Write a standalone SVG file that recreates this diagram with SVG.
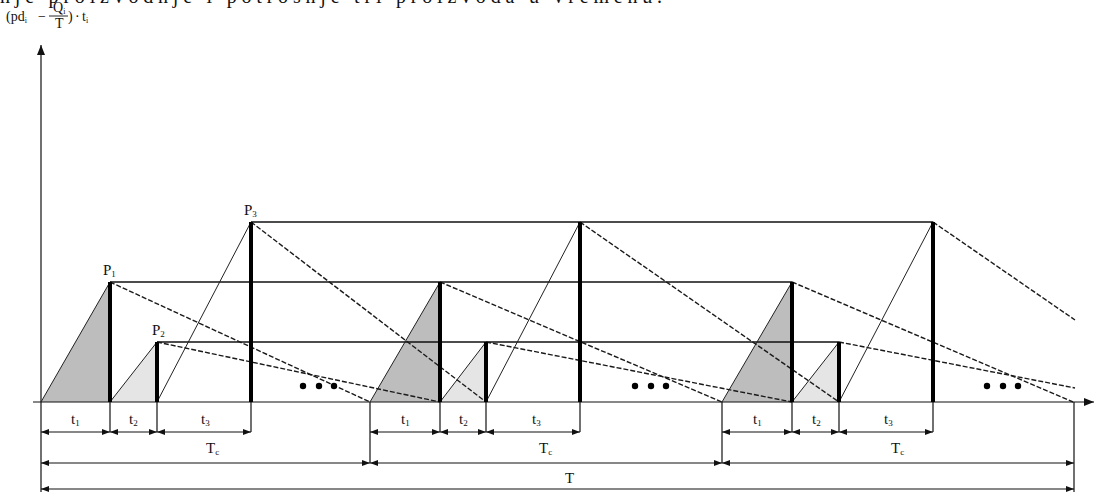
<svg xmlns="http://www.w3.org/2000/svg" width="1098" height="492" viewBox="0 0 1098 492">
<style>
text{font-family:"Liberation Serif","Times New Roman",serif;fill:#111}
.ax{stroke:#111;stroke-width:1.2;fill:none}
.thin{stroke:#222;stroke-width:1;fill:none}
.hl{stroke:#111;stroke-width:1.4;fill:none}
.dash{stroke:#1a1a1a;stroke-width:1.4;fill:none;stroke-dasharray:5 2}
.thick{stroke:#000;stroke-width:4;fill:none}
.dim{stroke:#111;stroke-width:1.2;fill:none;marker-start:url(#ah);marker-end:url(#ah)}
.dark{fill:#bdbdbd;stroke:none}
.light{fill:#e5e5e5;stroke:none}
.lbl{font-size:15px}
.sm{font-size:15px}
.sub{font-size:9px}
.f{font-size:14px}
.fs{font-size:8px}
</style>
<defs>
<marker id="ah" viewBox="0 0 8 6" refX="8" refY="3" markerWidth="8" markerHeight="6" markerUnits="userSpaceOnUse" orient="auto-start-reverse">
<path d="M0,0 L8,3 L0,6 Z" fill="#111"/>
</marker>
<marker id="axh" viewBox="0 0 10 8" refX="10" refY="4" markerWidth="10" markerHeight="8" markerUnits="userSpaceOnUse" orient="auto">
<path d="M0,0 L10,4 L0,8 Z" fill="#111"/>
</marker>
</defs>

<text x="0" y="3" font-size="20" textLength="662" lengthAdjust="spacing">nje proizvodnje i potrošnje tri proizvoda u vremenu.</text>

<g id="axis-label">
<text class="f" x="6" y="21">(pd<tspan class="fs" dy="2">i</tspan></text>
<text class="f" x="38" y="21">−</text>
<text class="f" x="53" y="12">Q<tspan class="fs" dy="2">i</tspan></text>
<line x1="49" y1="16" x2="68" y2="16" stroke="#111" stroke-width="0.9"/>
<text class="f" x="55" y="28">T</text>
<text class="f" x="68" y="21">)</text>
<text class="f" x="75" y="21">·</text>
<text class="f" x="82" y="21">t<tspan class="fs" dy="2">i</tspan></text>
</g>

<g id="shading">
<polygon class="dark" points="41,402 110,282 110,402"/>
<polygon class="light" points="110,402 157,342 157,402"/>
<polygon class="dark" points="370,402 440,282 440,402"/>
<polygon class="light" points="440,402 486,342 486,402"/>
<polygon class="dark" points="722,402 792,282 792,402"/>
<polygon class="light" points="792,402 839,342 839,402"/>
</g>

<g id="axes">
<line class="ax" x1="41" y1="492" x2="41" y2="45" marker-end="url(#axh)"/>
<line class="ax" x1="33" y1="402" x2="1094" y2="402" marker-end="url(#axh)"/>
</g>

<g id="levels">
<line class="hl" x1="110" y1="282" x2="792" y2="282"/>
<line class="hl" x1="157" y1="342" x2="839" y2="342"/>
<line class="hl" x1="251" y1="222" x2="933" y2="222"/>
</g>

<g id="connectors">
<line class="thin" x1="41" y1="402" x2="110" y2="282"/>
<line class="thin" x1="110" y1="402" x2="157" y2="342"/>
<line class="thin" x1="157" y1="402" x2="251" y2="222"/>
<line class="thin" x1="370" y1="402" x2="440" y2="282"/>
<line class="thin" x1="440" y1="402" x2="486" y2="342"/>
<line class="thin" x1="486" y1="402" x2="580" y2="222"/>
<line class="thin" x1="722" y1="402" x2="792" y2="282"/>
<line class="thin" x1="792" y1="402" x2="839" y2="342"/>
<line class="thin" x1="839" y1="402" x2="933" y2="222"/>

<line class="dash" x1="110" y1="282" x2="370" y2="402"/>
<line class="dash" x1="157" y1="342" x2="440" y2="402"/>
<line class="dash" x1="251" y1="222" x2="486" y2="402"/>
<line class="dash" x1="440" y1="282" x2="722" y2="402"/>
<line class="dash" x1="486" y1="342" x2="792" y2="402"/>
<line class="dash" x1="580" y1="222" x2="839" y2="402"/>
<line class="dash" x1="792" y1="282" x2="1073" y2="402"/>
<line class="dash" x1="839" y1="342" x2="1075" y2="388"/>
<line class="dash" x1="933" y1="222" x2="1075" y2="320"/>
</g>

<g id="peaks">
<line class="thick" x1="110" y1="282" x2="110" y2="402"/>
<line class="thick" x1="157" y1="342" x2="157" y2="402"/>
<line class="thick" x1="251" y1="222" x2="251" y2="402"/>
<line class="thick" x1="440" y1="282" x2="440" y2="402"/>
<line class="thick" x1="486" y1="342" x2="486" y2="402"/>
<line class="thick" x1="580" y1="222" x2="580" y2="402"/>
<line class="thick" x1="792" y1="282" x2="792" y2="402"/>
<line class="thick" x1="839" y1="342" x2="839" y2="402"/>
<line class="thick" x1="933" y1="222" x2="933" y2="402"/>
</g>

<g id="peak-labels">
<text class="lbl" x="103" y="275">P<tspan class="sub" dy="2">1</tspan></text>
<text class="lbl" x="152" y="335">P<tspan class="sub" dy="2">2</tspan></text>
<text class="lbl" x="244" y="215">P<tspan class="sub" dy="2">3</tspan></text>
</g>

<g id="dots" fill="#000">
<circle cx="303" cy="386" r="3.2"/><circle cx="319" cy="386" r="3.2"/><circle cx="334" cy="386" r="3.2"/>
<circle cx="635" cy="386" r="3.2"/><circle cx="651" cy="386" r="3.2"/><circle cx="666" cy="386" r="3.2"/>
<circle cx="987" cy="386" r="3.2"/><circle cx="1003" cy="386" r="3.2"/><circle cx="1018" cy="386" r="3.2"/>
</g>

<g id="extension-lines" class="ax">
<line x1="110" y1="402" x2="110" y2="432"/>
<line x1="157" y1="402" x2="157" y2="432"/>
<line x1="251" y1="402" x2="251" y2="432"/>
<line x1="440" y1="402" x2="440" y2="432"/>
<line x1="486" y1="402" x2="486" y2="432"/>
<line x1="580" y1="402" x2="580" y2="432"/>
<line x1="792" y1="402" x2="792" y2="432"/>
<line x1="839" y1="402" x2="839" y2="432"/>
<line x1="933" y1="402" x2="933" y2="432"/>
<line x1="370" y1="402" x2="370" y2="463"/>
<line x1="722" y1="402" x2="722" y2="463"/>
<line x1="1074" y1="402" x2="1074" y2="492"/>
</g>

<g id="dimensions">
<line class="dim" x1="41" y1="432" x2="110" y2="432"/>
<line class="dim" x1="110" y1="432" x2="157" y2="432"/>
<line class="dim" x1="157" y1="432" x2="251" y2="432"/>
<line class="dim" x1="370" y1="432" x2="440" y2="432"/>
<line class="dim" x1="440" y1="432" x2="486" y2="432"/>
<line class="dim" x1="486" y1="432" x2="580" y2="432"/>
<line class="dim" x1="722" y1="432" x2="792" y2="432"/>
<line class="dim" x1="792" y1="432" x2="839" y2="432"/>
<line class="dim" x1="839" y1="432" x2="933" y2="432"/>
<line class="dim" x1="41" y1="463" x2="370" y2="463"/>
<line class="dim" x1="370" y1="463" x2="722" y2="463"/>
<line class="dim" x1="722" y1="463" x2="1074" y2="463"/>
<line class="dim" x1="41" y1="489" x2="1074" y2="489"/>
</g>

<g id="dim-labels">
<text class="sm" x="71" y="424">t<tspan class="sub" dy="2">1</tspan></text>
<text class="sm" x="129" y="424">t<tspan class="sub" dy="2">2</tspan></text>
<text class="sm" x="201" y="424">t<tspan class="sub" dy="2">3</tspan></text>
<text class="sm" x="401" y="424">t<tspan class="sub" dy="2">1</tspan></text>
<text class="sm" x="459" y="424">t<tspan class="sub" dy="2">2</tspan></text>
<text class="sm" x="532" y="424">t<tspan class="sub" dy="2">3</tspan></text>
<text class="sm" x="753" y="424">t<tspan class="sub" dy="2">1</tspan></text>
<text class="sm" x="812" y="424">t<tspan class="sub" dy="2">2</tspan></text>
<text class="sm" x="884" y="424">t<tspan class="sub" dy="2">3</tspan></text>
<text class="sm" x="206" y="453">T<tspan class="sub" dy="2">c</tspan></text>
<text class="sm" x="539" y="453">T<tspan class="sub" dy="2">c</tspan></text>
<text class="sm" x="891" y="453">T<tspan class="sub" dy="2">c</tspan></text>
<text class="sm" x="565" y="483">T</text>
</g>
</svg>
